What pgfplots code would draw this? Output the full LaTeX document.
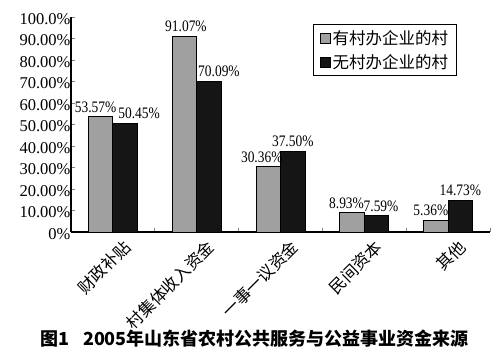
\documentclass[border=0pt]{standalone}
\usepackage{fontspec}
\setmainfont{Liberation Serif}
\newfontfamily\cjk{Noto Sans CJK SC}
\newfontfamily\numfont[FakeStretch=0.84]{Liberation Serif}
\usepackage{pgfplots}
\usepackage{pgfplotstable}
\pgfplotsset{compat=1.18}
\definecolor{grayfill}{HTML}{A0A0A0}
\definecolor{darkfill}{HTML}{151515}
\pgfplotstableread{
x y dx
0 53.57 -5
1 91.07 1.5
2 30.36 -6.5
3 8.93 -5.5
4 5.36 -5
}\gray
\pgfplotstableread{
x y dx
0 50.45 14
1 70.09 10
2 37.50 0
3 7.59 4.5
4 14.73 0
}\dark
\begin{document}
\begin{tikzpicture}
\begin{axis}[
  scale only axis, width=419pt, height=215pt,
  at={(0,0)}, anchor=south west,
  xmin=-0.5, xmax=4.5, ymin=0, ymax=100,
  axis x line*=bottom, axis y line*=left,
  axis line style={line width=1.1pt},
  clip=false,
  ybar, bar width=24.5pt,
  tick align=inside,
  xtick={0,1,2,3,4},
  xticklabels={财政补贴,村集体收入资金,一事一议资金,民间资本,其他},
  major x tick style={draw=none},
  minor xtick={0.5,1.5,2.5,3.5,4.5},
  minor tick length=4pt,
  minor x tick style={line width=0.9pt},
  xticklabel style={font=\cjk\fontsize{16.5}{16.5}\selectfont, inner sep=1pt, xshift=9pt, yshift=-5pt, rotate=45, anchor=north east},
  ytick={0,10,20,30,40,50,60,70,80,90,100},
  yticklabels={0\%,10.00\%,20.00\%,30.00\%,40.00\%,50.00\%,60.00\%,70.00\%,80.00\%,90.00\%,100.0\%},
  yticklabel style={font=\fontsize{16.5}{16.5}\selectfont, yshift=-2pt, xshift=3pt},
  major tick length=4pt,
  y tick style={line width=0.9pt},
  nodes near coords={\numfont\pgfmathprintnumber[fixed,fixed zerofill,precision=2,assume math mode=true]{\pgfplotspointmeta}\%},
  every node near coord/.append style={font=\fontsize{16}{16}\selectfont, inner sep=1pt, yshift=3pt},
  legend style={at={(0.92,0.967)}, anchor=north east, draw=black, line width=0.9pt,
    font=\cjk\fontsize{16.5}{16.5}\selectfont, row sep=4pt, inner xsep=6pt, inner ysep=4pt,
    cells={anchor=west}},
  legend image code/.code={\draw[#1, draw=black, line width=0.6pt] (0pt,-5pt) rectangle (10pt,5pt);},
]
\addplot[fill=grayfill, draw=black, line width=0.9pt, bar shift=-12.25pt,
  visualization depends on={\thisrow{dx} \as \dx},
  every node near coord/.append style={xshift=\dx pt}] table[x=x,y=y] {\gray};
\addplot[fill=darkfill, draw=black, line width=0.9pt, bar shift=12.25pt,
  visualization depends on={\thisrow{dx} \as \dx},
  every node near coord/.append style={xshift=\dx pt}] table[x=x,y=y] {\dark};
\legend{有村办企业的村,无村办企业的村}
\node[font=\cjk\bfseries\fontsize{18}{18}\selectfont] at (rel axis cs:0.438,0) [yshift=-107pt] {图1\hspace{14pt}2005年山东省农村公共服务与公益事业资金来源};
\end{axis}
\pgfresetboundingbox
\path[use as bounding box] (-71pt,-126pt) rectangle (429pt,232pt);
\end{tikzpicture}
\end{document}
